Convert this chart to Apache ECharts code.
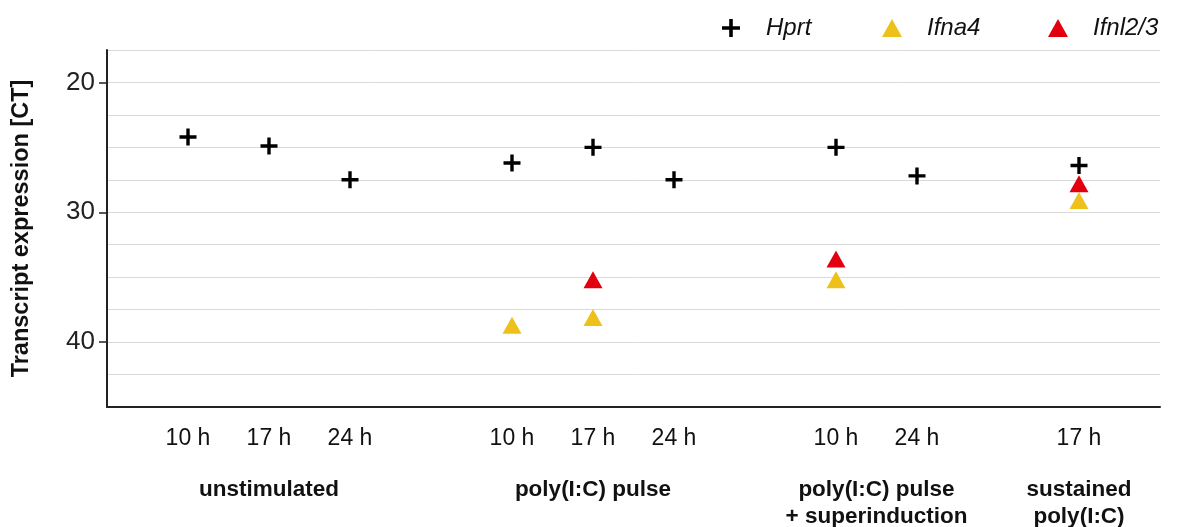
<!DOCTYPE html>
<html>
<head>
<meta charset="utf-8">
<script src="https://cdn.jsdelivr.net/npm/echarts@6/dist/echarts.min.js"></script>
<style>
  html, body { margin: 0; padding: 0; background: #fff; }
  #chart { width: 1177px; height: 527px; }
</style>
</head>
<body>
<div id="chart"></div>
<script>
// Slot positions along the x axis (gaps separate the treatment groups)
const slots = [0, 1, 2, 4, 5, 6, 8, 9, 11];
const timeLabels = ['10 h', '17 h', '24 h', '10 h', '17 h', '24 h', '10 h', '24 h', '17 h'];

// Treatment groups and where their captions sit
const groupPositions = [1, 5, 8.5, 11];
const groupLabels = ['unstimulated', 'poly(I:C) pulse', 'poly(I:C) pulse\n+ superinduction', 'sustained\npoly(I:C)'];

// CT values per transcript, one per slot (null = not measured)
const hprt    = [24.2, 24.9, 27.5, 26.2, 25.0, 27.5, 25.0, 27.2, 26.4];
const ifna4   = [null, null, null, 38.7, 38.1, null, 35.2, null, 29.1];
const ifnl23  = [null, null, null, null, 35.2, null, 33.6, null, 27.8];

const yTicks = [20, 30, 40];

const plusPath = 'path://M6.4,0h3.2v6.4h6.4v3.2h-6.4v6.4h-3.2v-6.4h-6.4v-3.2h6.4z';
const FONT = '"Liberation Sans", Arial, sans-serif';

function pairs(values) {
  const out = [];
  values.forEach((v, i) => { if (v !== null) out.push([slots[i], v]); });
  return out;
}

const chart = echarts.init(document.getElementById('chart'), null, { renderer: 'canvas' });

const legendBase = {
  top: 11,
  itemWidth: 20,
  itemHeight: 18,
  textStyle: { fontFamily: FONT, fontSize: 24, fontStyle: 'italic', color: '#111', padding: [0, 0, 0, 20] },
  selectedMode: false
};

const yRange = { type: 'value', inverse: true, min: 17.5, max: 45, interval: 2.5 };

chart.setOption({
  animation: false,
  backgroundColor: '#fff',
  grid: { left: 107, right: 17, top: 50, bottom: 120, outerBoundsMode: 'none' },
  legend: [
    Object.assign({}, legendBase, { left: 717, data: ['Hprt'] }),
    Object.assign({}, legendBase, { left: 877, data: ['Ifna4'] }),
    Object.assign({}, legendBase, { left: 1043, data: ['Ifnl2/3'] })
  ],
  xAxis: [
    {
      type: 'value', min: -1, max: 12, interval: 1,
      axisLine: { show: true, onZero: false, lineStyle: { color: '#222', width: 2 } },
      axisTick: { show: false },
      splitLine: { show: false },
      axisLabel: {
        customValues: slots,
        formatter: v => timeLabels[slots.indexOf(v)] || '',
        fontFamily: FONT, fontSize: 23, color: '#111', margin: 20
      }
    },
    {
      type: 'value', min: -1, max: 12, interval: 0.5,
      position: 'bottom', offset: 69,
      axisLine: { show: false },
      axisTick: { show: false },
      splitLine: { show: false },
      axisLabel: {
        customValues: groupPositions,
        formatter: v => groupLabels[groupPositions.indexOf(v)] || '',
        fontFamily: FONT, fontSize: 22.5, fontWeight: 'bold', color: '#111',
        lineHeight: 27, margin: 0
      }
    }
  ],
  yAxis: [
    Object.assign({}, yRange, {
      name: 'Transcript expression [CT]',
      nameLocation: 'middle', nameGap: 73,
      nameTextStyle: { fontFamily: FONT, fontSize: 23.5, fontWeight: 'bold', color: '#111' },
      axisLine: { show: true, onZero: false, lineStyle: { color: '#222', width: 2 } },
      axisTick: { show: true, customValues: yTicks, length: 8, lineStyle: { color: '#222', width: 1.5 } },
      axisLabel: { customValues: yTicks, fontFamily: FONT, fontSize: 26, color: '#222', margin: 12 },
      splitLine: { show: false },
      z: 3
    }),
    // light horizontal grid every 2.5 CT
    Object.assign({}, yRange, {
      position: 'left',
      axisLine: { show: false },
      axisTick: { show: false },
      axisLabel: { show: false },
      splitLine: { show: true, lineStyle: { color: '#dadada', width: 1 } }
    })
  ],
  series: [
    {
      name: 'Hprt', type: 'scatter', data: pairs(hprt),
      symbol: plusPath, symbolSize: 17, z: 3,
      itemStyle: { color: '#000', opacity: 1 }
    },
    {
      name: 'Ifna4', type: 'scatter', data: pairs(ifna4),
      symbol: 'triangle', symbolSize: [19, 17], z: 2,
      itemStyle: { color: '#EEC11A', opacity: 1 }
    },
    {
      name: 'Ifnl2/3', type: 'scatter', data: pairs(ifnl23),
      symbol: 'triangle', symbolSize: [19, 17], z: 2,
      itemStyle: { color: '#E2000F', opacity: 1 }
    }
  ]
});
</script>
</body>
</html>
